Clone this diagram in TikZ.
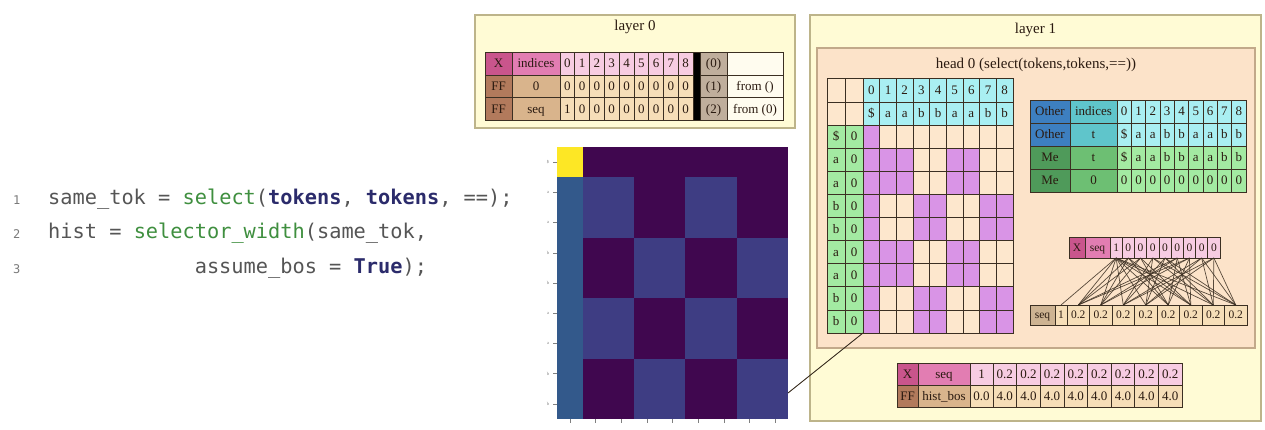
\documentclass[tikz,border=0pt]{standalone}
\usepackage{fontspec}
\setmainfont{Liberation Serif}
\newfontfamily\codefont{DejaVu Sans Mono}
\definecolor{pinkD}{HTML}{C9558C}
\definecolor{pinkM}{HTML}{E27DB2}
\definecolor{pinkL}{HTML}{F7CCE2}
\definecolor{ffD}{HTML}{B27A5C}
\definecolor{tanM}{HTML}{D9B48C}
\definecolor{tanL}{HTML}{F6DEB8}
\definecolor{seqT}{HTML}{CDB392}
\definecolor{parenc}{HTML}{BFAE9C}
\definecolor{fromc}{HTML}{FFFCEF}
\definecolor{layerbg}{HTML}{FFFBD5}
\definecolor{layerdraw}{HTML}{BDB48A}
\definecolor{headbg}{HTML}{FCE3C9}
\definecolor{headdraw}{HTML}{C2A98A}
\definecolor{emptyc}{HTML}{FDE7CD}
\definecolor{cyanL}{HTML}{A9EFF2}
\definecolor{greenL}{HTML}{A3EAA2}
\definecolor{purp}{HTML}{D994E6}
\definecolor{blueD}{HTML}{3D7FC0}
\definecolor{tealM}{HTML}{5FC5CB}
\definecolor{greenD}{HTML}{4F9A5A}
\definecolor{greenM}{HTML}{6DBF73}
\definecolor{gridc}{HTML}{3B2F22}
\definecolor{cellText}{HTML}{2A1A10}
\definecolor{hmY}{HTML}{FDE725}
\definecolor{hmB}{HTML}{33598B}
\definecolor{hmS}{HTML}{3E3D83}
\definecolor{hmD}{HTML}{40074F}
\definecolor{codegray}{HTML}{555555}
\definecolor{numgray}{HTML}{7A7A7A}
\definecolor{codegreen}{HTML}{3F8F3F}
\definecolor{codenavy}{HTML}{2B2B6B}
\tikzset{
  cellbox/.style={draw=gridc, line width=0.7pt, inner sep=0pt, outer sep=0pt, text=cellText,
    font=\fontsize{13}{13}\selectfont, text height=10.6pt, text depth=2pt},
  smallcell/.style={font=\fontsize{11.5}{11.5}\selectfont, text height=9.6pt, text depth=2pt},
  layerbox/.style={draw=layerdraw, fill=layerbg, line width=1.2pt, inner sep=0pt},
  headbox/.style={draw=headdraw, fill=headbg, line width=1.2pt, inner sep=0pt},
  titletext/.style={font=\fontsize{15}{15}\selectfont, text=cellText, inner sep=0pt},
  codestyle/.style={font=\codefont\fontsize{20.3}{20.3}\selectfont, text=codegray, inner sep=0pt},
  numstyle/.style={font=\codefont\fontsize{12}{12}\selectfont, text=numgray, inner sep=0pt},
  attedge/.style={draw=gridc, line width=0.7pt, opacity=0.85},
  ticklab/.style={font=\fontsize{4.5}{4.5}\selectfont, text=gray, inner sep=0pt},
}
\newcommand\mkcell[8][]{\node[cellbox,#1, fill=#7, minimum width={((#4)-(#2))*1pt}, minimum height={((#5)-(#3))*1pt}] (#6) at ({((#2)+(#4))/2},{((#3)+(#5))/2}) {#8};}
\begin{document}
\begin{tikzpicture}[x=1pt,y=-1pt]
\useasboundingbox (0,0) rectangle (1265,430);
\fill[white] (0,0) rectangle (1265,430);

% ---------- code ----------
\node[numstyle, anchor=base west] (n1) at (13,205) {1};
\node[numstyle, anchor=base west] (n2) at (13,239) {2};
\node[numstyle, anchor=base west] (n3) at (13,273) {3};
\node[codestyle, anchor=base west] (c1) at (48,205) {same\_tok = {\color{codegreen}select}({\bfseries\color{codenavy}tokens}, {\bfseries\color{codenavy}tokens}, ==);};
\node[codestyle, anchor=base west] (c2) at (48,239) {hist = {\color{codegreen}selector\_width}(same\_tok,};
\node[codestyle, anchor=base west] (c3) at (194.6,273) {assume\_bos = {\bfseries\color{codenavy}True});};

% ---------- layer 0 ----------
\node[layerbox, minimum width=320pt, minimum height=113pt] (L0) at (635,71.5) {};
\node[titletext] (L0t) at (635,27) {layer 0};
% row 0
\mkcell{485}{52}{512}{75}{l0x0}{pinkD}{X}
\mkcell{512}{52}{560}{75}{l0n0}{pinkM}{indices}
\foreach \k in {0,...,8}{\mkcell{560+14.78*\k}{52}{560+14.78*(\k+1)}{75}{l0a\k}{pinkL}{\k}}
\mkcell{700}{52}{727}{75}{l0p0}{parenc}{(0)}
\mkcell{727}{52}{783}{75}{l0f0}{fromc}{}
% row 1
\mkcell{485}{75}{512}{97.5}{l0x1}{ffD}{FF}
\mkcell{512}{75}{560}{97.5}{l0n1}{tanM}{0}
\foreach \k in {0,...,8}{\mkcell{560+14.78*\k}{75}{560+14.78*(\k+1)}{97.5}{l0b\k}{tanL}{0}}
\mkcell{700}{75}{727}{97.5}{l0p1}{parenc}{(1)}
\mkcell{727}{75}{783}{97.5}{l0f1}{fromc}{from ()}
% row 2
\mkcell{485}{97.5}{512}{120}{l0x2}{ffD}{FF}
\mkcell{512}{97.5}{560}{120}{l0n2}{tanM}{seq}
\foreach \k/\v in {0/1,1/0,2/0,3/0,4/0,5/0,6/0,7/0,8/0}{\mkcell{560+14.78*\k}{97.5}{560+14.78*(\k+1)}{120}{l0c\k}{tanL}{\v}}
\mkcell{700}{97.5}{727}{120}{l0p2}{parenc}{(2)}
\mkcell{727}{97.5}{783}{120}{l0f2}{fromc}{from (0)}
\mkcell{693}{52}{700}{120}{l0bar}{black}{}

% ---------- layer 1 ----------
\node[layerbox, minimum width=451pt, minimum height=406pt] (L1) at (1035.5,218) {};
\node[titletext] (L1t) at (1035.5,30) {layer 1};
\node[headbox, minimum width=438pt, minimum height=300pt] (H0) at (1036,198) {};
\node[titletext] (H0t) at (1036,65) {head 0 (select(tokens,tokens,==))};

% head grid header
\mkcell{827}{78}{845}{102}{gh00}{emptyc}{}
\mkcell{845}{78}{863}{102}{gh01}{emptyc}{}
\mkcell{827}{102}{845}{125}{gh10}{emptyc}{}
\mkcell{845}{102}{863}{125}{gh11}{emptyc}{}
\foreach \j in {0,...,8}{\mkcell{863+16.667*\j}{78}{863+16.667*(\j+1)}{102}{gi\j}{cyanL}{\j}}
\foreach \t [count=\jj from 0] in {\$,a,a,b,b,a,a,b,b}{\mkcell{863+16.667*\jj}{102}{863+16.667*(\jj+1)}{125}{gt\jj}{cyanL}{\t}}
% head grid data
\foreach \i/\ci/\t in {0/0/\$,1/1/a,2/1/a,3/2/b,4/2/b,5/1/a,6/1/a,7/2/b,8/2/b}{
  \mkcell{827}{125+23.111*\i}{845}{125+23.111*(\i+1)}{gl\i}{greenL}{\t}
  \mkcell{845}{125+23.111*\i}{863}{125+23.111*(\i+1)}{gz\i}{greenL}{0}
  \foreach \j/\cj in {0/0,1/1,2/1,3/2,4/2,5/1,6/1,7/2,8/2}{
    \ifnum\ci=\cj\relax\def\cf{purp}\else\ifnum\j=0\relax\def\cf{purp}\else\def\cf{emptyc}\fi\fi
    \mkcell{863+16.667*\j}{125+23.111*\i}{863+16.667*(\j+1)}{125+23.111*(\i+1)}{gd\i c\j}{\cf}{}
  }
}

% Other / Me table
\mkcell{1030}{100}{1070}{123}{om0a}{blueD}{Other}
\mkcell{1070}{100}{1117}{123}{om0b}{tealM}{indices}
\foreach \k in {0,...,8}{\mkcell{1117+14.33*\k}{100}{1117+14.33*(\k+1)}{123}{om0d\k}{cyanL}{\k}}
\mkcell{1030}{123}{1070}{146}{om1a}{blueD}{Other}
\mkcell{1070}{123}{1117}{146}{om1b}{tealM}{t}
\foreach \t [count=\k from 0] in {\$,a,a,b,b,a,a,b,b}{\mkcell{1117+14.33*\k}{123}{1117+14.33*(\k+1)}{146}{om1d\k}{cyanL}{\t}}
\mkcell{1030}{146}{1070}{169}{om2a}{greenD}{Me}
\mkcell{1070}{146}{1117}{169}{om2b}{greenM}{t}
\foreach \t [count=\k from 0] in {\$,a,a,b,b,a,a,b,b}{\mkcell{1117+14.33*\k}{146}{1117+14.33*(\k+1)}{169}{om2d\k}{greenL}{\t}}
\mkcell{1030}{169}{1070}{192}{om3a}{greenD}{Me}
\mkcell{1070}{169}{1117}{192}{om3b}{greenM}{0}
\foreach \k in {0,...,8}{\mkcell{1117+14.33*\k}{169}{1117+14.33*(\k+1)}{192}{om3d\k}{greenL}{0}}

% X seq (values) row
\mkcell[smallcell]{1069}{237}{1085}{258}{xsa}{pinkD}{X}
\mkcell[smallcell]{1085}{237}{1110}{258}{xsb}{pinkM}{seq}
\foreach \k/\v in {0/1,1/0,2/0,3/0,4/0,5/0,6/0,7/0,8/0}{\mkcell[smallcell]{1110+12.22*\k}{237}{1110+12.22*(\k+1)}{258}{xs\k}{pinkL}{\v}}
% seq output row
\mkcell[smallcell]{1030}{305}{1055}{325}{sba}{seqT}{seq}
\mkcell[smallcell]{1055}{305}{1067}{325}{sb0}{tanL}{1}
\foreach \k in {1,...,8}{\mkcell[smallcell]{1067+22.5*(\k-1)}{305}{1067+22.5*\k}{325}{sb\k}{tanL}{0.2}}
% attention edges
\foreach \i/\ci in {0/0,1/1,2/1,3/2,4/2,5/1,6/1,7/2,8/2}{
  \foreach \j/\cj in {0/0,1/1,2/1,3/2,4/2,5/1,6/1,7/2,8/2}{
    \ifnum\ci=\cj\relax\draw[attedge] (xs\j.south) -- (sb\i.north);\else\ifnum\j=0\relax\draw[attedge] (xs\j.south) -- (sb\i.north);\fi\fi
  }
}

% bottom result table
\mkcell{897}{363}{918}{385}{rx}{pinkD}{X}
\mkcell{918}{363}{970}{385}{rn}{pinkM}{seq}
\mkcell{970}{363}{993}{385}{rv0}{pinkL}{1}
\foreach \k in {1,...,8}{\mkcell{993+23.625*(\k-1)}{363}{993+23.625*\k}{385}{rv\k}{pinkL}{0.2}}
\mkcell{897}{385}{918}{407}{fx}{ffD}{FF}
\mkcell{918}{385}{970}{407}{fn}{tanM}{hist\_bos}
\mkcell{970}{385}{993}{407}{fv0}{tanL}{0.0}
\foreach \k in {1,...,8}{\mkcell{993+23.625*(\k-1)}{385}{993+23.625*\k}{407}{fv\k}{tanL}{4.0}}

% ---------- heatmap ----------
\foreach \i/\ci/\t in {0/0/\$,1/1/a,2/1/a,3/2/b,4/2/b,5/1/a,6/1/a,7/2/b,8/2/b}{
  \foreach \j/\cj in {0/0,1/1,2/1,3/2,4/2,5/1,6/1,7/2,8/2}{
    \ifnum\j=0\relax\ifnum\i=0\relax\def\hc{hmY}\else\def\hc{hmB}\fi
    \else\ifnum\ci=\cj\relax\def\hc{hmS}\else\def\hc{hmD}\fi\fi
    \fill[\hc] ({557+25.667*\j},{147+30.222*\i}) rectangle ({557+25.667*(\j+1)},{147+30.222*(\i+1)});
  }
  \draw[gray, line width=0.4pt] (553,{147+30.222*(\i+0.5)}) -- (557,{147+30.222*(\i+0.5)});
  \node[ticklab] (yl\i) at (548,{147+30.222*(\i+0.5)}) {\t};
  \draw[gray, line width=0.4pt] ({557+25.667*(\i+0.5)},419) -- ({557+25.667*(\i+0.5)},423);
}
\coordinate (hmconn) at (788,393);
\draw[gridc, line width=0.9pt] (hmconn) -- (gd8c0.south west);
\end{tikzpicture}
\end{document}
